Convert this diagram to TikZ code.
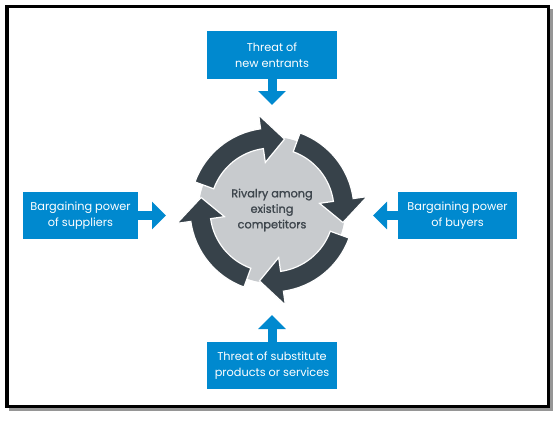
\documentclass[tikz,border=0pt]{standalone}
\usepackage{fontspec}
\setmainfont{Poppins}
\newfontfamily\centerfont[FakeBold=1.3]{Poppins}
\usetikzlibrary{arrows.meta}
\definecolor{boxblue}{RGB}{0,137,207}
\definecolor{ringdark}{RGB}{55,66,74}
\definecolor{discgray}{RGB}{200,203,206}
\definecolor{textgray}{RGB}{62,70,77}
\definecolor{shadowgray}{RGB}{150,150,150}
\begin{document}
\begin{tikzpicture}[x=1pt,y=-1pt,
  forcebox/.style={fill=boxblue, text=white, align=center, inner sep=0pt,
    font=\fontsize{11.3}{15.5}\selectfont, minimum height=47pt},
  blockarrow/.style={draw=boxblue, line width=9pt, -{Triangle[length=14pt,width=27pt]}},
  ringarrow/.style={fill=ringdark, draw=white, line width=1.2pt, line join=miter},
]
\useasboundingbox (0,0) rectangle (556,420);
\fill[shadowgray] (9,9) rectangle (552.5,411);
\draw[line width=3.5pt, fill=white] (6.75,6.75) rectangle (548.25,406.25);

\node[forcebox, minimum width=130pt] (entrants) at (272,55) {Threat of\\new entrants};
\node[forcebox, minimum width=115pt] (suppliers) at (80.5,215.5) {Bargaining power\\of suppliers};
\node[forcebox, minimum width=119pt] (buyers) at (457.5,215.5) {Bargaining power\\of buyers};
\node[forcebox, minimum width=130pt] (substitutes) at (272,365.5) {Threat of substitute\\products or services};

\node[circle, fill=discgray, minimum size=146pt, inner sep=0pt] (rivalry) at (272,210) {};

\coordinate (tipN) at (272,105);
\coordinate (tipW) at (166,215.5);
\coordinate (tipE) at (373,215.5);
\coordinate (tipS) at (272,315);
\draw[blockarrow] (entrants.south) -- (tipN);
\draw[blockarrow] (suppliers.east) -- (tipW);
\draw[blockarrow] (buyers.west) -- (tipE);
\draw[blockarrow] (substitutes.north) -- (tipS);

\begin{scope}[shift={(rivalry.center)}]
\foreach \t in {80,-10,-100,170} {
  \filldraw[ringarrow] (\t+80:82pt) arc[start angle=\t+80, end angle=\t+18, radius=82pt]
    -- (\t+18:96pt) -- (\t:72pt) -- (\t+18:48pt) -- (\t+18:62pt)
    arc[start angle=\t+18, end angle=\t+80, radius=62pt] -- cycle;
}
\end{scope}

\node[text=textgray, align=center, font=\centerfont\fontsize{11.3}{15.5}\selectfont] at (rivalry.center) {Rivalry among\\existing\\competitors};
\end{tikzpicture}
\end{document}
